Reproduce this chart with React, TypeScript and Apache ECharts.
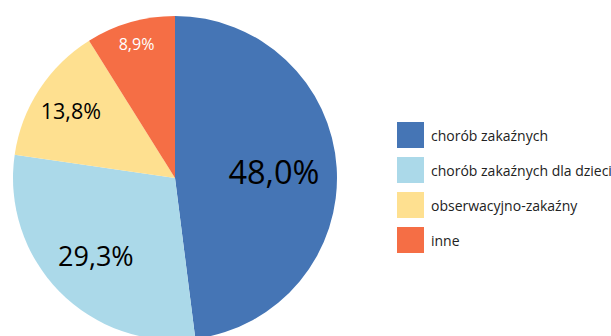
import React, { useEffect, useRef } from "react";
import * as echarts from "echarts";

const categories = [
  "chorób zakaźnych",
  "chorób zakaźnych dla dzieci",
  "obserwacyjno-zakaźny",
  "inne",
];
const values = [48.0, 29.3, 13.8, 8.9];
const colors = ["#4575b5", "#abd9e9", "#fee090", "#f56e45"];
const labelColors = ["#000000", "#000000", "#000000", "#ffffff"];
const labelSizes = [32.5, 27, 21.5, 16];
const labelRadiusRatio = [0.59, 0.66, 0.74, 0.83];

const CX = 175;
const CY = 178;
const R = 162;

export default function App() {
  const ref = useRef<HTMLDivElement>(null);
  useEffect(() => {
    if (!ref.current) return;
    const chart = echarts.init(ref.current, null, { renderer: "svg" });
    chart.setOption({
      animation: false,
      backgroundColor: "#ffffff",
      textStyle: { fontFamily: "Open Sans" },
      legend: {
        orient: "vertical",
        left: 397,
        top: 122,
        padding: 0,
        itemWidth: 27,
        itemHeight: 26,
        itemGap: 9,
        icon: "rect",
        textStyle: { fontSize: 14, color: "#222222", fontFamily: "Open Sans", padding: [0, 0, 0, 2] },
        data: categories,
      },
      series: [
        {
          type: "pie",
          center: [CX, CY],
          radius: [0, R],
          startAngle: 90,
          clockwise: true,
          itemStyle: { borderWidth: 0 },
          emphasis: { disabled: true },
          label: {
            show: true,
            position: "inside",
            fontFamily: "Open Sans",
            formatter: (p: any) => p.value.toFixed(1).replace(".", ",") + "%",
          },
          labelLayout: (params: any) => {
            const k = labelRadiusRatio[params.dataIndex] / 0.5 - 1;
            const r = params.labelRect;
            const mx = r.x + r.width / 2;
            const my = r.y + r.height / 2;
            return { dx: k * (mx - CX), dy: k * (my - CY) };
          },
          data: categories.map((name, i) => ({
            name,
            value: values[i],
            itemStyle: { color: colors[i] },
            label: { color: labelColors[i], fontSize: labelSizes[i] },
          })),
        },
      ],
    });
    return () => chart.dispose();
  }, []);
  return (
    <div
      ref={ref}
      style={{ position: "absolute", left: 0, top: 0, width: 611, height: 336 }}
    />
  );
}
